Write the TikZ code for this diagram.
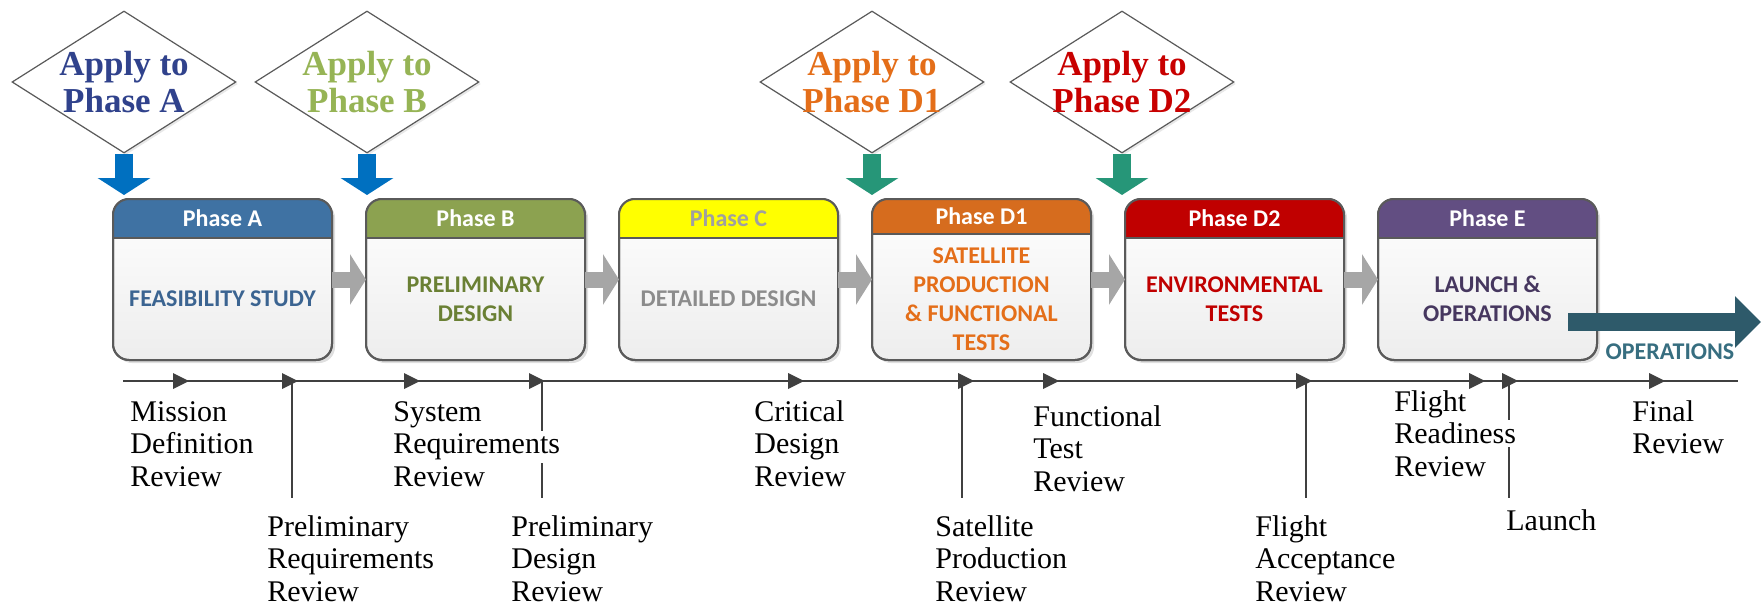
\documentclass[tikz,border=0pt]{standalone}
\usepackage{fontspec}
\setmainfont{Liberation Serif}
\newfontfamily\boxfont{Carlito}
\usetikzlibrary{shapes.geometric,arrows.meta,shadows,calc}

% palette
\definecolor{hdrA}{RGB}{63,114,163}
\definecolor{txtA}{RGB}{59,100,145}
\definecolor{hdrB}{RGB}{140,162,80}
\definecolor{txtB}{RGB}{106,128,52}
\definecolor{hdrC}{RGB}{255,255,0}
\definecolor{hdrCtxt}{RGB}{160,160,160}
\definecolor{txtC}{RGB}{140,140,140}
\definecolor{hdrDa}{RGB}{214,108,30}
\definecolor{txtDa}{RGB}{228,110,25}
\definecolor{hdrDb}{RGB}{192,0,0}
\definecolor{txtDb}{RGB}{192,0,0}
\definecolor{hdrE}{RGB}{98,78,130}
\definecolor{txtE}{RGB}{70,55,95}
\definecolor{applyA}{RGB}{48,66,140}
\definecolor{applyB}{RGB}{150,180,85}
\definecolor{applyDa}{RGB}{228,110,25}
\definecolor{applyDb}{RGB}{200,0,0}
\definecolor{arrBlue}{RGB}{0,112,192}
\definecolor{arrGreen}{RGB}{38,150,120}
\definecolor{arrGray}{RGB}{166,166,166}
\definecolor{opsArr}{RGB}{46,90,106}
\definecolor{opsTxt}{RGB}{55,110,128}
\definecolor{rim}{RGB}{90,90,90}
\definecolor{tlcol}{RGB}{64,64,64}

% white backing behind a word that crosses a tick line
\newcommand\onwhite[1]{{\setlength\fboxsep{1.5pt}\hspace*{-1.5pt}\colorbox{white}{#1}\hspace*{-1.5pt}}}

\tikzset{
  diam/.style={diamond, draw=rim, line width=0.6pt, fill=white, inner sep=0pt,
    minimum width=112pt, minimum height=71pt,
    drop shadow={opacity=0.18, shadow xshift=1pt, shadow yshift=-1pt}},
  applytxt/.style={font=\fontsize{17.5pt}{18.5pt}\selectfont\bfseries, align=center, inner sep=0pt},
  downarr/.style={line width=9pt, -{Triangle[width=26pt,length=8.5pt]}, shorten >=2pt},
  phase/.style={rectangle, rounded corners=8pt, outer sep=0pt, inner sep=0pt,
    minimum width=109.5pt, minimum height=80.5pt,
    top color=white, bottom color=black!7, draw=rim, line width=1pt,
    drop shadow={opacity=0.25, shadow xshift=1.5pt, shadow yshift=-1.5pt}},
  rimline/.style={draw=rim, line width=1pt},
  hdrtxt/.style={font=\boxfont\bfseries\fontsize{12pt}{14pt}\selectfont, inner sep=0pt},
  bodytxt/.style={font=\boxfont\bfseries\fontsize{12pt}{14.5pt}\selectfont, align=center, inner sep=0pt},
  grayarr/.style={arrGray, line width=8pt, -{Triangle[width=25pt,length=8pt]}},
  opsarr/.style={opsArr, line width=9pt, -{Triangle[width=25pt,length=13pt]}},
  tline/.style={tlcol, line width=1pt},
  tickline/.style={tlcol, line width=0.8pt},
  % anchored at the baseline of the last line
  lbl/.style={anchor=base west, align=left, inner sep=0pt, font=\fontsize{15pt}{16.25pt}\selectfont}
}

% phase box: name, left x, header height, header colour, header text colour, header text, body colour, body text
\newcommand\phasebox[8]{%
  \node[phase, anchor=north west] (#1) at (#2,199) {};
  \begin{scope}
    \clip[rounded corners=8pt] (#1.south west) rectangle (#1.north east);
    \fill[#4] (#1.north west) rectangle ($(#1.north east)+(0,#3)$);
  \end{scope}
  \draw[rimline] ($(#1.north west)+(0,#3)$) -- ($(#1.north east)+(0,#3)$);
  \draw[rimline, rounded corners=8pt] (#1.south west) rectangle (#1.north east);
  \node[hdrtxt, text=#5] (#1-head) at ($(#1.north)+(0,#3/2)$) {#6};
  \node[bodytxt, text=#7] (#1-body) at ($(#1.center)+(0,19.5)$) {#8};
}

\begin{document}
\begin{tikzpicture}[x=0.5pt,y=-0.5pt]
\useasboundingbox (0,0) rectangle (1762,605);

% phase boxes
\phasebox{pA}{113}{39}{hdrA}{white}{Phase A}{txtA}{FEASIBILITY STUDY}
\phasebox{pB}{366}{39}{hdrB}{white}{Phase B}{txtB}{PRELIMINARY\\DESIGN}
\phasebox{pC}{619}{39}{hdrC}{hdrCtxt}{Phase C}{txtC}{DETAILED DESIGN}
\phasebox{pD1}{872}{35}{hdrDa}{white}{Phase D1}{txtDa}{SATELLITE\\PRODUCTION\\\& FUNCTIONAL\\TESTS}
\phasebox{pD2}{1125}{39}{hdrDb}{white}{Phase D2}{txtDb}{ENVIRONMENTAL\\TESTS}
\phasebox{pE}{1378}{39}{hdrE}{white}{Phase E}{txtE}{LAUNCH \&\\OPERATIONS}

% transitions between phases
\draw[grayarr] (pA.east) -- (pB.west);
\draw[grayarr] (pB.east) -- (pC.west);
\draw[grayarr] (pC.east) -- (pD1.west);
\draw[grayarr] (pD1.east) -- (pD2.west);
\draw[grayarr] (pD2.east) -- (pE.west);

% operations arrow
\coordinate (opsS) at (1568,322);
\coordinate (opsE) at (1761,322);
\draw[opsarr] (opsS) -- (opsE);
\node[hdrtxt, text=opsTxt] (opsLbl) at (1670,352) {OPERATIONS};

% application diamonds
\node[diam] (dA) at (124,82) {};
\node[applytxt, text=applyA] (dA-txt) at (dA.center) {Apply to\\Phase A};
\node[diam] (dB) at (367,82) {};
\node[applytxt, text=applyB] (dB-txt) at (dB.center) {Apply to\\Phase B};
\node[diam] (dD1) at (872,82) {};
\node[applytxt, text=applyDa] (dD1-txt) at (dD1.center) {Apply to\\Phase D1};
\node[diam] (dD2) at (1122,82) {};
\node[applytxt, text=applyDb] (dD2-txt) at (dD2.center) {Apply to\\Phase D2};

\draw[downarr, arrBlue] (dA.south) -- (dA.south |- pA.north);
\draw[downarr, arrBlue] (dB.south) -- (dB.south |- pB.north);
\draw[downarr, arrGreen] (dD1.south) -- (dD1.south |- pD1.north);
\draw[downarr, arrGreen] (dD2.south) -- (dD2.south |- pD2.north);

% review timeline
\coordinate (tl0) at (123,381);
\coordinate (tl1) at (1738,381);
\draw[tline] (tl0) -- (tl1);
\foreach \t in {189,298,420,545,804,974,1059,1312,1485,1518,1665}
  \fill[tlcol] (\t,381) -- ++(-16,-8) -- ++(0,16) -- cycle;
\foreach \v in {292,542,962,1306,1509}
  \draw[tickline] (\v,381) -- (\v,498);

% review labels
\node[lbl] (mdr) at (130,486) {Mission\\Definition\\Review};
\node[lbl] (prr) at (267,601) {Preliminary\\Requirements\\Review};
\node[lbl] (srr) at (393,486) {System\\\onwhite{Requirements}\\Review};
\node[lbl] (pdr) at (511,601) {Preliminary\\Design\\Review};
\node[lbl] (cdr) at (754,486) {Critical\\Design\\Review};
\node[lbl] (spr) at (935,601) {Satellite\\Production\\Review};
\node[lbl] (ftr) at (1033,491) {Functional\\Test\\Review};
\node[lbl] (far) at (1255,601) {Flight\\Acceptance\\Review};
\node[lbl] (frr) at (1394,476) {Flight\\\onwhite{Readiness}\\Review};
\node[lbl] (lau) at (1506,530) {Launch};
\node[lbl] (fin) at (1632,453.5) {Final\\Review};
\end{tikzpicture}
\end{document}
